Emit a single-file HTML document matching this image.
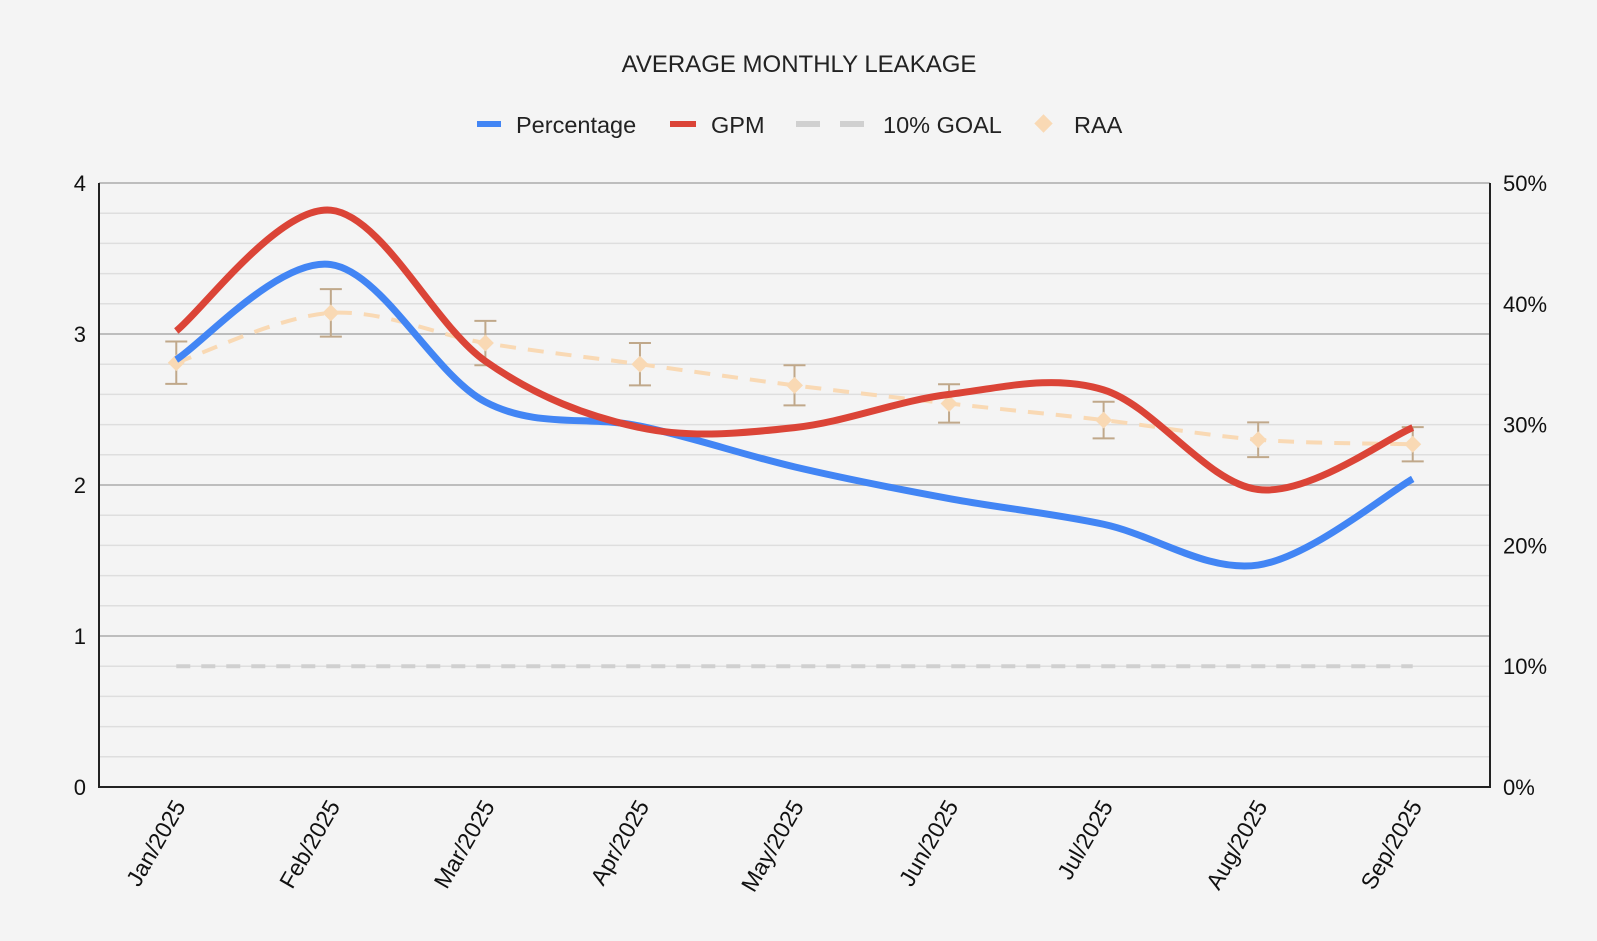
<!DOCTYPE html>
<html><head><meta charset="utf-8"><style>
html,body{margin:0;padding:0;background:#f4f4f4;}
svg{display:block;font-family:"Liberation Sans",Arial,sans-serif;}
</style></head><body>
<svg id="chart" width="1597" height="941" viewBox="0 0 1597 941">
<rect width="1597" height="941" fill="#f4f4f4"/>
<text x="799" y="72" text-anchor="middle" font-size="24" fill="#222">AVERAGE MONTHLY LEAKAGE</text>
<g>
 <g><line x1="477" y1="124" x2="501" y2="124" stroke="#4285f4" stroke-width="6"/><text x="516" y="133" font-size="23.5" fill="#222">Percentage</text></g>
 <g><line x1="670" y1="124" x2="696" y2="124" stroke="#db4437" stroke-width="6"/><text x="711" y="133" font-size="23.5" fill="#222">GPM</text></g>
 <g><line x1="796" y1="124" x2="866" y2="124" stroke="#d0d0d0" stroke-width="6" stroke-dasharray="24,20"/><text x="883" y="133" font-size="23.5" fill="#222">10% GOAL</text></g>
 <g><rect x="1037" y="117" width="13" height="13" fill="#f9d9b4" transform="rotate(45 1043.5 123.5)"/><text x="1074" y="133" font-size="23.5" fill="#222">RAA</text></g>
</g>
<g id="grid"></g>
<g id="marks"></g>
<g id="axes"></g>
</svg>
<script>
const categories=["Jan/2025","Feb/2025","Mar/2025","Apr/2025","May/2025","Jun/2025","Jul/2025","Aug/2025","Sep/2025"];
const percentage=[2.83,3.46,2.55,2.39,2.12,1.91,1.74,1.47,2.04];
const gpm=[3.02,3.82,2.82,2.38,2.38,2.6,2.63,1.97,2.38];
const raa=[2.81,3.14,2.94,2.8,2.66,2.54,2.43,2.3,2.27];
const goal=[0.8,0.8,0.8,0.8,0.8,0.8,0.8,0.8,0.8];
const leftTicks=[0,1,2,3,4];
const rightTicks=["0%","10%","20%","30%","40%","50%"];
const errPct=0.05;

const NS="http://www.w3.org/2000/svg";
const L=99,R=1490,T=183,B=787,YMAX=4;
const cw=(R-L)/categories.length;
const xs=i=>L+cw*(i+0.5);
const ys=v=>B-(v/YMAX)*(B-T);
function mk(tag,attrs,parent){const e=document.createElementNS(NS,tag);for(const k in attrs)e.setAttribute(k,attrs[k]);parent.appendChild(e);return e;}
const grid=document.getElementById('grid'),marks=document.getElementById('marks'),axes=document.getElementById('axes');
for(let k=0;k<=20;k++){const v=k*0.2;const major=k%5===0;
 const ln=mk('line',{x1:L,x2:R,y1:ys(v),y2:ys(v),stroke:major?'#bdbdbd':'#dedede','stroke-width':major?2:1.5},grid);
 
 }
function smooth(vals){const p=vals.map((v,i)=>[xs(i),ys(v)]);let d=`M${p[0][0]},${p[0][1]}`;const t=0.5/3*2;
 for(let i=0;i<p.length-1;i++){const p0=p[i-1]||p[i],p1=p[i],p2=p[i+1],p3=p[i+2]||p2;
  const c1=[p1[0]+(p2[0]-p0[0])*t/2,p1[1]+(p2[1]-p0[1])*t/2];const c2=[p2[0]-(p3[0]-p1[0])*t/2,p2[1]-(p3[1]-p1[1])*t/2];
  d+=` C${c1[0]},${c1[1]} ${c2[0]},${c2[1]} ${p2[0]},${p2[1]}`;}return d;}
const gl=mk('line',{x1:xs(0),x2:xs(goal.length-1),y1:ys(goal[0]),y2:ys(goal[0]),stroke:'#d0d0d0','stroke-width':4,'stroke-dasharray':'14,11'},marks);


const rl=mk('path',{d:smooth(raa),fill:'none',stroke:'#f9d9b4','stroke-width':4,'stroke-dasharray':'16,12'},marks);


raa.forEach((v,i)=>{const x=xs(i),e=v*errPct;
 const g=mk('g',{},marks);
 
 
 mk('line',{x1:x,x2:x,y1:ys(v+e),y2:ys(v-e),stroke:'#c0a88a','stroke-width':2},g);
 mk('line',{x1:x-11,x2:x+11,y1:ys(v+e),y2:ys(v+e),stroke:'#c0a88a','stroke-width':2},g);
 mk('line',{x1:x-11,x2:x+11,y1:ys(v-e),y2:ys(v-e),stroke:'#c0a88a','stroke-width':2},g);
 const d=mk('rect',{x:x-6,y:ys(v)-6,width:12,height:12,fill:'#f9d9b4',transform:`rotate(45 ${x} ${ys(v)})`},marks);
 
 });
const pl=mk('path',{d:smooth(percentage),fill:'none',stroke:'#4285f4','stroke-width':7},marks);


const gp=mk('path',{d:smooth(gpm),fill:'none',stroke:'#db4437','stroke-width':7},marks);


const la=mk('line',{x1:L,x2:L,y1:T,y2:B+1,stroke:'#222','stroke-width':2},axes);


const ra=mk('line',{x1:R,x2:R,y1:T,y2:B+1,stroke:'#222','stroke-width':2},axes);


const ba=mk('line',{x1:L,x2:R+1,y1:B,y2:B,stroke:'#222','stroke-width':2},axes);


leftTicks.forEach(v=>{const t=mk('text',{x:86,y:ys(v)+8,'text-anchor':'end','font-size':22,fill:'#111'},axes);t.textContent=v;
 
 });
rightTicks.forEach((s,i)=>{const y=B-(i/(rightTicks.length-1))*(B-T);const t=mk('text',{x:1503,y:y+8,'font-size':22,fill:'#111'},axes);t.textContent=s;
 
 });
categories.forEach((c,i)=>{const x=xs(i)+10,y=B+19;const t=mk('text',{x:x,y:y,'text-anchor':'end','font-size':23,fill:'#111',transform:`rotate(-60 ${x} ${y})`},axes);t.textContent=c;
 
 });
</script>
</body></html>
